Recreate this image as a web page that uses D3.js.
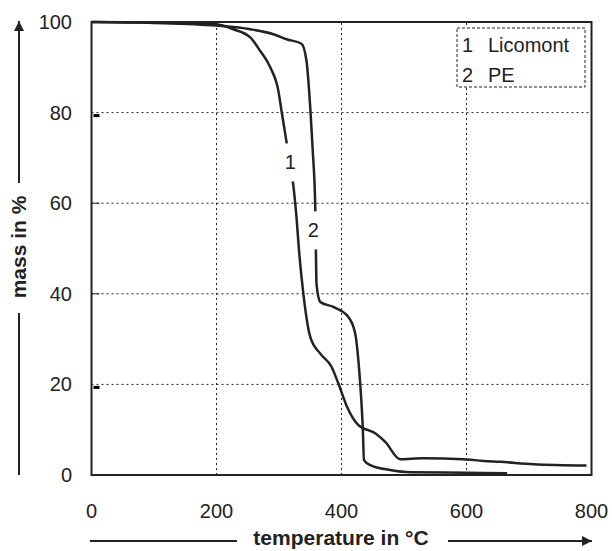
<!DOCTYPE html>
<html><head><meta charset="utf-8">
<script src="https://cdn.jsdelivr.net/npm/d3@7/dist/d3.min.js"></script>
<style>body{margin:0;background:#fff}svg{display:block}</style>
</head><body>
<svg id="c" width="612" height="551"></svg>
<script>
const xTicks = [0, 200, 400, 600, 800];
const yTicks = [0, 20, 40, 60, 80, 100];
const seriesNames = ["Licomont", "PE"];
const temp1 = [0, 100, 200, 227, 254, 270, 286, 299, 304, 310, 316, 322, 328, 332, 339, 350, 366, 384, 395, 409, 427, 454, 470, 494, 531, 595, 627, 654, 707, 792];
const mass1 = [100, 99.9, 99.5, 98.4, 96.6, 93.6, 90, 84.8, 80.4, 75.3, 70, 65, 56.9, 49.6, 40, 30.5, 26.8, 23.9, 20.2, 15.0, 11.0, 9.2, 7.3, 3.5, 3.7, 3.5, 3.1, 2.9, 2.4, 2.1];
const temp2 = [0, 100, 200, 254, 291, 312, 336, 344, 350, 354, 358, 359, 360, 366, 387, 411, 422, 427, 431, 434, 436, 446, 478, 510, 600, 665];
const mass2 = [100, 99.8, 99.2, 98.4, 97.3, 96.2, 95.2, 91.4, 81.1, 71.6, 59.1, 49.9, 42.2, 38.2, 37.1, 34.9, 31.2, 25.3, 18.0, 10.6, 3.3, 2.2, 1.1, 0.6, 0.5, 0.4];
const labelPos1 = [318, 69];
const labelPos2 = [355, 54];

const ink = "#222";
const svg = d3.select("#c");
const x = d3.scaleLinear().domain([0, 800]).range([91.5, 591.5]);
const y = d3.scaleLinear().domain([0, 100]).range([475, 22]);
const font = "'Liberation Sans', Arial, sans-serif";

// grid
svg.append("g").selectAll("line").data([200, 400, 600]).join("line")
  .attr("x1", d => x(d)).attr("x2", d => x(d)).attr("y1", y(0)).attr("y2", y(100))
  .attr("stroke", ink).attr("stroke-width", 1).attr("stroke-dasharray", "2,3");
svg.append("g").selectAll("line").data([20, 40, 60, 80]).join("line")
  .attr("x1", x(0)).attr("x2", x(800)).attr("y1", d => y(d)).attr("y2", d => y(d))
  .attr("stroke", ink).attr("stroke-width", 1).attr("stroke-dasharray", "2,3");

// inner ticks
svg.append("g").selectAll("line").data([40, 60]).join("line")
  .attr("x1", x(0)).attr("x2", x(0) + 8).attr("y1", d => y(d)).attr("y2", d => y(d))
  .attr("stroke", ink).attr("stroke-width", 1);
svg.append("g").selectAll("rect").data([20, 80]).join("rect")
  .attr("x", x(0) + 2).attr("y", d => y(d) + 1.5).attr("width", 6).attr("height", 3).attr("fill", "#000");

// curves
const line = d3.line().x(d => x(d[0])).y(d => y(d[1])).curve(d3.curveMonotoneX);
const c1 = temp1.map((t, i) => [t, mass1[i]]);
const c2 = temp2.map((t, i) => [t, mass2[i]]);
[c1, c2].forEach(c => {
  svg.append("path").datum(c).attr("d", line).attr("fill", "none")
    .attr("stroke", ink).attr("stroke-width", 2.5).attr("stroke-linejoin", "round");
});

// curve labels with gaps
[[labelPos1, "1"], [labelPos2, "2"]].forEach(([p, t]) => {
  svg.append("rect").attr("x", x(p[0]) - 7).attr("y", y(p[1]) - 19).attr("width", 14).attr("height", 38).attr("fill", "#fff");
  svg.append("text").attr("x", x(p[0])).attr("y", y(p[1]) + 7).attr("text-anchor", "middle")
    .attr("font-family", font).attr("font-size", 20).attr("fill", ink).text(t);
});

// frame
svg.append("rect").attr("x", x(0)).attr("y", y(100)).attr("width", x(800) - x(0)).attr("height", y(0) - y(100))
  .attr("fill", "none").attr("stroke", ink).attr("stroke-width", 2);

// legend
const lg = svg.append("g");
lg.append("rect").attr("x", 457).attr("y", 28).attr("width", 128).attr("height", 59)
  .attr("fill", "#fff").attr("stroke", ink).attr("stroke-width", 1).attr("stroke-dasharray", "3,2");
seriesNames.forEach((n, i) => {
  lg.append("text").attr("x", 462).attr("y", 52 + i * 30).attr("font-family", font).attr("font-size", 20).attr("fill", ink).text(i + 1);
  lg.append("text").attr("x", 488).attr("y", 52 + i * 30).attr("font-family", font).attr("font-size", 20).attr("fill", ink).text(n);
});

// tick labels
svg.append("g").selectAll("text").data(xTicks).join("text")
  .attr("x", d => x(d)).attr("y", 518).attr("text-anchor", "middle")
  .attr("font-family", font).attr("font-size", 20).attr("fill", ink).text(d => d);
svg.append("g").selectAll("text").data(yTicks).join("text")
  .attr("x", 72).attr("y", d => y(d) + 7).attr("text-anchor", "end")
  .attr("font-family", font).attr("font-size", 20).attr("fill", ink).text(d => d);

// axis titles with arrows
const defs = svg.append("defs");
defs.append("marker").attr("id", "arr").attr("viewBox", "0 0 10 10").attr("refX", 10).attr("refY", 5)
  .attr("markerWidth", 6).attr("markerHeight", 5).attr("markerUnits", "strokeWidth").attr("orient", "auto")
  .append("path").attr("d", "M0,0L10,5L0,10z").attr("fill", ink);

svg.append("text").attr("x", 341).attr("y", 545).attr("text-anchor", "middle")
  .attr("font-family", font).attr("font-size", 21).attr("font-weight", "bold").attr("fill", ink).text("temperature in °C");
svg.append("line").attr("x1", 90).attr("x2", 237).attr("y1", 541).attr("y2", 541).attr("stroke", ink).attr("stroke-width", 2);
svg.append("line").attr("x1", 448).attr("x2", 592).attr("y1", 541).attr("y2", 541).attr("stroke", ink).attr("stroke-width", 2)
  .attr("marker-end", "url(#arr)");

svg.append("text").attr("transform", "translate(26,247) rotate(-90)").attr("text-anchor", "middle")
  .attr("font-family", font).attr("font-size", 21).attr("font-weight", "bold").attr("fill", ink).text("mass in %");
svg.append("line").attr("x1", 19).attr("x2", 19).attr("y1", 475).attr("y2", 313).attr("stroke", ink).attr("stroke-width", 2);
svg.append("line").attr("x1", 19).attr("x2", 19).attr("y1", 183).attr("y2", 21).attr("stroke", ink).attr("stroke-width", 2)
  .attr("marker-end", "url(#arr)");
</script>
</body></html>
